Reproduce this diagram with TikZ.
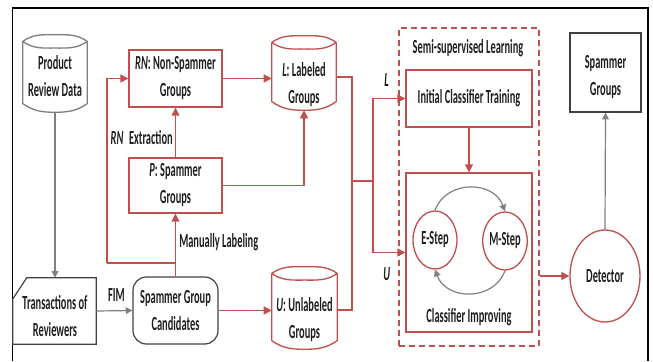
\documentclass[tikz,border=0pt]{standalone}
\usepackage{fontspec}
\setmainfont{Carlito}[FakeStretch=0.52]
\usetikzlibrary{arrows.meta,shapes.geometric}
\definecolor{rd}{HTML}{C0504D}
\definecolor{gr}{HTML}{7F7F7F}
\definecolor{tx}{HTML}{1E1E1E}
\definecolor{dk}{HTML}{404040}
\tikzset{
  rbox/.style={draw=rd, line width=1pt, rectangle, inner sep=0pt, align=center, text=tx},
  kbox/.style={draw=dk, line width=0.9pt, rectangle, inner sep=0pt, align=center, text=tx},
  shapeonly/.style={rectangle, inner sep=0pt},
  txt/.style={inner sep=0pt, align=center, text=tx},
  rell/.style={draw=rd, line width=1pt, ellipse, inner sep=0pt, align=center, text=tx},
  rarr/.style={draw=rd, line width=1.1pt, -{Triangle[length=6pt,width=6pt]}},
  rline/.style={draw=rd, line width=1.1pt},
  garr/.style={draw=gr, line width=0.9pt, -{Triangle[length=5pt,width=5pt]}},
  gline/.style={draw=gr, line width=0.9pt},
}
% cylinder outline drawn round a named node: #1 node, #2 colour
\newcommand\cylout[2]{%
  \draw[#2, line width=1pt]
    ([yshift=-5pt]#1.north west) to[out=35,in=180] (#1.north) to[out=0,in=145] ([yshift=-5pt]#1.north east)
    ([yshift=-5pt]#1.north west) to[out=-35,in=180] ([yshift=-10pt]#1.north) to[out=0,in=-145] ([yshift=-5pt]#1.north east)
    ([yshift=-5pt]#1.north west) -- ([yshift=6.5pt]#1.south west)
    to[out=-35,in=180] (#1.south) to[out=0,in=-145] ([yshift=6.5pt]#1.south east)
    -- ([yshift=-5pt]#1.north east);
}
\begin{document}
\begin{tikzpicture}[x=0.75pt, y=-0.75pt, font=\fontsize{15}{20.25}\selectfont\bfseries]
\useasboundingbox (0,0) rectangle (653,361);
% outer frame
\draw[black, line width=1.4pt] (12.5,361) -- (12.5,8) -- (648,8) -- (648,361);

% ---- nodes ----
\node[shapeonly, minimum width=48pt, minimum height=57.75pt] (prd) at (55,73.5) {};
\cylout{prd}{gr}
\node[txt] (prdt) at (55,76.5) {Product\\Review Data};

\node[rbox, minimum width=69.75pt, minimum height=42.75pt] (rn) at (175.5,78.5) {\textit{RN}: Non-Spammer\\Groups};

\node[shapeonly, minimum width=48pt, minimum height=55.5pt] (lg) at (304,73) {};
\cylout{lg}{rd}
\node[txt] (lgt) at (304,85) {\textit{L}: Labeled\\Groups};

\node[rbox, minimum width=69.75pt, minimum height=41.25pt] (pg) at (175.5,185.5) {\textit{P}: Spammer\\Groups};

\node[shapeonly, minimum width=62.25pt, minimum height=49.5pt] (tr) at (54.5,311) {};
\draw[dk, line width=0.9pt] (tr.south west) -- ([yshift=-16pt]tr.north west) -- ([xshift=10.5pt]tr.north west) -- (tr.north east) -- (tr.south east) -- cycle;
\node[txt] (trt) at (55,316.5) {Transactions of\\Reviewers};

\node[kbox, rounded corners=10pt, minimum width=63.75pt, minimum height=50.25pt] (cd) at (175.5,310.5) {Spammer Group\\Candidates};

\node[shapeonly, minimum width=48.75pt, minimum height=61.5pt] (ug) at (304.5,308) {};
\cylout{ug}{rd}
\node[txt] (ugt) at (304.5,320) {\textit{U}: Unlabeled\\Groups};

\node[draw=rd, line width=1.1pt, dash pattern=on 4.5pt off 3pt, rectangle, inner sep=0pt,
      minimum width=105pt, minimum height=238.5pt] (ssl) at (469,187) {};
\node[txt] (sslt) at (468,48) {Semi-supervised Learning};

\node[rbox, minimum width=94.5pt, minimum height=42.75pt] (ini) at (469,98.5) {Initial Classifier Training};
\node[rbox, minimum width=94.5pt, minimum height=119.25pt] (ci) at (469,252.5) {};
\node[txt] (cit) at (469,317) {Classifier Improving};

\node[rell, minimum width=33pt, minimum height=43.5pt] (es) at (435,240) {E-Step};
\node[rell, minimum width=33pt, minimum height=43.5pt] (ms) at (505,241) {M-Step};

\node[rell, minimum width=52.5pt, minimum height=69pt] (det) at (605,276) {Detector};
\node[kbox, minimum width=53.25pt, minimum height=59.25pt] (sg) at (605.5,72.5) {};
\node[txt] (sgt) at (605.5,77) {Spammer\\Groups};

% ---- junction coordinates ----
\coordinate (jc) at (175.5,263);
\coordinate (jl) at (107,263);
\coordinate (jL) at (352,77);
\coordinate (jU) at (352,310);
\coordinate (jm) at (352,181);
\coordinate (js) at (373,181);

% ---- connectors ----
\draw[garr] (prd.south) -- (prd.south |- tr.north);
\draw[garr] (tr.east) -- (cd.west);
\node[txt, anchor=south] (fim) at (116.5,302) {FIM};
\draw[rarr] (cd.east) -- (cd.east -| ug.west);
\draw[rarr] (cd.north) -- (pg.south);
\node[txt, anchor=west] (ml) at (179,242) {Manually Labeling};
\draw[rline] (jc) -- (jl);
\draw[rarr] (jl) |- (rn.west);
\draw[rarr] (pg.north) -- (rn.south);
\node[txt, anchor=east] (rne) at (173,137.5) {\textit{RN}\, Extraction};
\draw[rarr] (rn.east) -- (rn.east -| lg.west);
\draw[rarr] (pg.east) -| (lg.south);
\draw[rline] (lg.east |- jL) -- (jL) -- (jm);
\draw[rline] (ug.east |- jU) -- (jU) -- (jm) -- (js);
\draw[rarr] (js) |- (ini.west);
\draw[rarr] (js) |- (ci.west);
\node[txt] (ll) at (386.5,80) {\textit{L}};
\draw[rarr] (ini.south) -- (ci.north);
\node[txt] (ul) at (386.7,274) {\textit{U}};
\draw[garr] (es.north) to[out=70,in=110,looseness=1.2] (ms.north);
\draw[garr] (ms.south) to[out=-110,in=-70,looseness=1.2] (es.south);
\draw[rarr] (ssl.east |- det.west) -- (det.west);
\draw[garr] (det.north) -- (sg.south);
\end{tikzpicture}
\end{document}
